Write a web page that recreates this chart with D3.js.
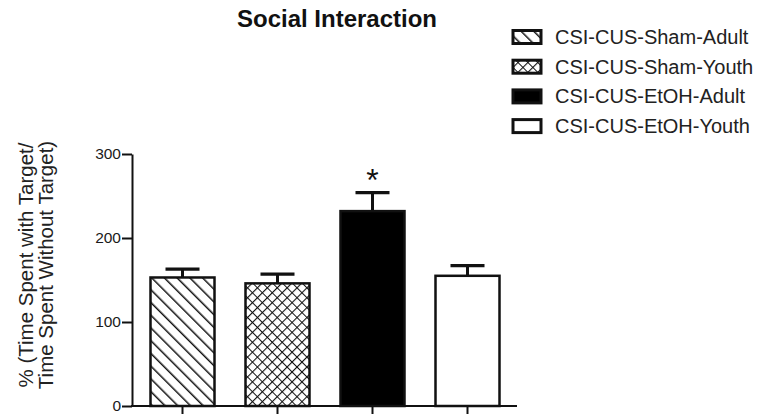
<!DOCTYPE html>
<html>
<head>
<meta charset="utf-8">
<script src="https://cdn.jsdelivr.net/npm/d3@7"></script>
<style>
  body { margin: 0; background: #fff; }
  svg { display: block; font-family: "Liberation Sans", Arial, sans-serif; }
</style>
</head>
<body>
<svg id="chart" width="766" height="420"></svg>
<script>
const groups = ["CSI-CUS-Sham-Adult", "CSI-CUS-Sham-Youth", "CSI-CUS-EtOH-Adult", "CSI-CUS-EtOH-Youth"];
const means = [153, 146, 232, 155];
const sems = [10, 11, 22, 12];
const fills = ["url(#diag)", "url(#cross)", "#000", "#fff"];
const yTicks = [0, 100, 200, 300];
const starGroup = "CSI-CUS-EtOH-Adult";

const svg = d3.select("#chart");
const ink = "#111";

// patterns
const defs = svg.append("defs");
const diag = defs.append("pattern").attr("id", "diag")
    .attr("patternUnits", "userSpaceOnUse").attr("width", 9).attr("height", 9)
    .attr("patternTransform", "rotate(-45)");
diag.append("rect").attr("width", 9).attr("height", 9).attr("fill", "#fff");
diag.append("line").attr("x1", 0).attr("y1", 0).attr("x2", 0).attr("y2", 9)
    .attr("stroke", ink).attr("stroke-width", 3);

const cross = defs.append("pattern").attr("id", "cross")
    .attr("patternUnits", "userSpaceOnUse").attr("width", 7).attr("height", 7)
    .attr("patternTransform", "rotate(45)");
cross.append("rect").attr("width", 7).attr("height", 7).attr("fill", "#fff");
cross.append("path").attr("d", "M0,0V7M0,0H7")
    .attr("stroke", ink).attr("stroke-width", 2.2);

const x = d3.scaleBand().domain(groups).range([135, 515])
    .paddingInner(0.3).paddingOuter(0.15);
const y = d3.scaleLinear().domain([0, 300]).range([406, 154]);

// title
svg.append("text").attr("x", 337).attr("y", 27).attr("text-anchor", "middle")
    .attr("font-size", 24).attr("font-weight", "bold").attr("fill", ink)
    .text("Social Interaction");

// y axis
const yAxis = svg.append("g").attr("transform", "translate(132,0)")
    .call(d3.axisLeft(y).tickValues(yTicks).tickSize(10).tickSizeOuter(0).tickPadding(1));
yAxis.select(".domain").attr("stroke", ink).attr("stroke-width", 2);
yAxis.selectAll(".tick line").attr("stroke", ink).attr("stroke-width", 2);
yAxis.selectAll("text").attr("font-size", 15.5).attr("fill", "#1a1a1a")
    .attr("font-family", "Liberation Sans, Arial, sans-serif");

// y label
const yl = svg.append("text").attr("transform", "translate(0,265) rotate(-90)")
    .attr("text-anchor", "middle").attr("font-size", 20.5).attr("fill", "#222");
yl.append("tspan").attr("x", 0).attr("y", 33).text("% (Time Spent with Target/");
yl.append("tspan").attr("x", 0).attr("y", 53).text("Time Spent Without Target)");

// x axis
svg.append("line").attr("x1", 131).attr("x2", 517).attr("y1", 406).attr("y2", 406)
    .attr("stroke", ink).attr("stroke-width", 2);
svg.append("g").selectAll("line").data(groups).join("line")
    .attr("x1", d => x(d) + x.bandwidth() / 2).attr("x2", d => x(d) + x.bandwidth() / 2)
    .attr("y1", 406).attr("y2", 414).attr("stroke", ink).attr("stroke-width", 2);

// error bars (upper only)
const eb = svg.append("g");
groups.forEach((g, i) => {
    const cx = x(g) + x.bandwidth() / 2;
    eb.append("line").attr("x1", cx).attr("x2", cx)
        .attr("y1", y(means[i])).attr("y2", y(means[i] + sems[i]))
        .attr("stroke", ink).attr("stroke-width", 3);
    eb.append("line").attr("x1", cx - 17).attr("x2", cx + 17)
        .attr("y1", y(means[i] + sems[i])).attr("y2", y(means[i] + sems[i]))
        .attr("stroke", ink).attr("stroke-width", 3.2);
});

// bars
svg.append("g").selectAll("rect").data(groups).join("rect")
    .attr("x", d => x(d) + 1.25)
    .attr("y", (d, i) => y(means[i]))
    .attr("width", x.bandwidth() - 2.5)
    .attr("height", (d, i) => y(0) - y(means[i]))
    .attr("fill", (d, i) => fills[i])
    .attr("stroke", ink).attr("stroke-width", 2.5);

// significance star
const si = groups.indexOf(starGroup);
svg.append("text").attr("x", x(starGroup) + x.bandwidth() / 2)
    .attr("y", y(means[si] + sems[si]) - 2).attr("text-anchor", "middle")
    .attr("font-size", 32).attr("fill", ink).text("*");

// legend
const lg = svg.append("g").attr("transform", "translate(513,37)");
const rows = lg.selectAll("g").data(groups).join("g")
    .attr("transform", (d, i) => `translate(0,${i * 29.7})`);
rows.append("rect").attr("x", 0).attr("y", -6.5).attr("width", 28).attr("height", 13)
    .attr("fill", (d, i) => fills[i]).attr("stroke", ink).attr("stroke-width", 3);
rows.append("text").attr("x", 42).attr("y", 7).attr("font-size", 20).attr("fill", "#222")
    .text(d => d);
</script>
</body>
</html>
